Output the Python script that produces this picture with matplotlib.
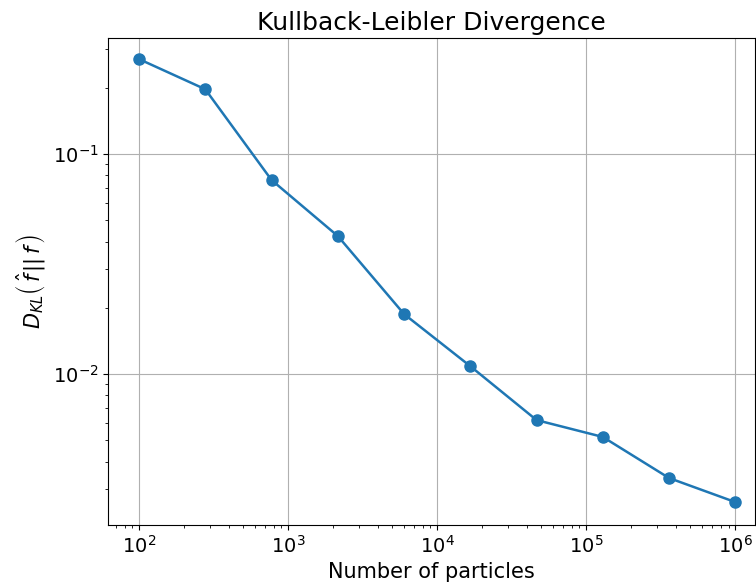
"""KL divergence versus particle count."""
import matplotlib
matplotlib.use("Agg")
import matplotlib.pyplot as plt

n_particles = [100, 278, 774, 2154, 5995, 16681, 46416, 129155, 359381, 1000000]
kl_div = [0.270, 0.197, 0.0762, 0.0424, 0.01874, 0.01086, 0.00618, 0.00518,
          0.00337, 0.00262]


def main():
    dpi = 100
    fig = plt.figure(dpi=dpi, figsize=(756 / dpi, 588 / dpi))
    ax = fig.add_axes([0.143, 0.107, 0.856, 0.828])

    ax.loglog(n_particles, kl_div, "o-", color="#1f77b4", lw=1.8, ms=8)
    ax.set_xlim(62, 1.36e6)
    ax.set_ylim(0.00206, 0.336)
    ax.grid(True, which="major")

    ax.set_title("Kullback-Leibler Divergence", fontsize=18)
    ax.set_xlabel("Number of particles", fontsize=15)
    ax.set_ylabel(r"$D_{KL}\left(\,\hat{f}\,||\,f\,\right)$", fontsize=15)
    ax.tick_params(labelsize=14)

    fig.savefig("out.png", dpi=dpi)


if __name__ == "__main__":
    main()
